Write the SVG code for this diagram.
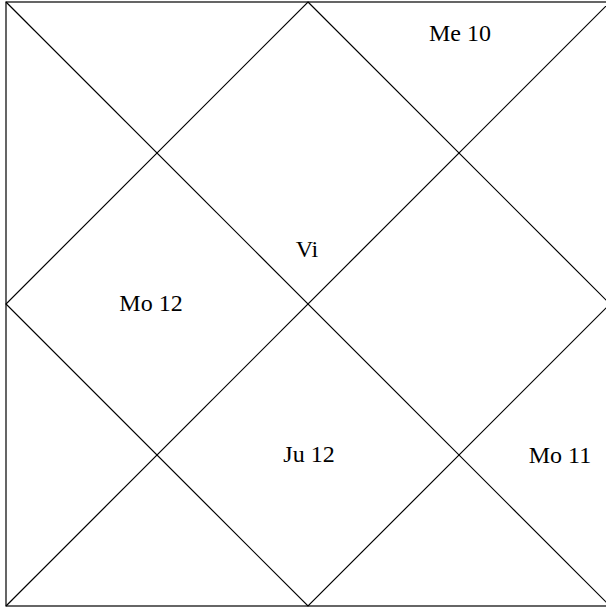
<svg xmlns="http://www.w3.org/2000/svg" width="606" height="608" viewBox="0 0 606 608">
<style>
.ln{stroke:#000;stroke-width:1.2;fill:none}
.t{font-family:"Liberation Serif","DejaVu Serif",serif;font-size:24px;fill:#000;text-anchor:middle}
</style>
<rect width="606" height="608" fill="#fff"/>
<g id="connectors">
<rect class="ln" x="6" y="2" width="604" height="604"/>
<line class="ln" x1="6" y1="2" x2="610" y2="606"/>
<line class="ln" x1="610" y1="2" x2="6" y2="606"/>
<polygon class="ln" points="308,2 610,304 308,606 6,304"/>
</g>
<g id="h11"><text class="t" x="460" y="41">Me 10</text></g>
<g id="h1"><text class="t" x="307" y="257">Vi</text></g>
<g id="h3"><text class="t" x="151" y="311">Mo 12</text></g>
<g id="h7"><text class="t" x="309" y="462">Ju 12</text></g>
<g id="h9"><text class="t" x="560" y="463">Mo 11</text></g>
</svg>
